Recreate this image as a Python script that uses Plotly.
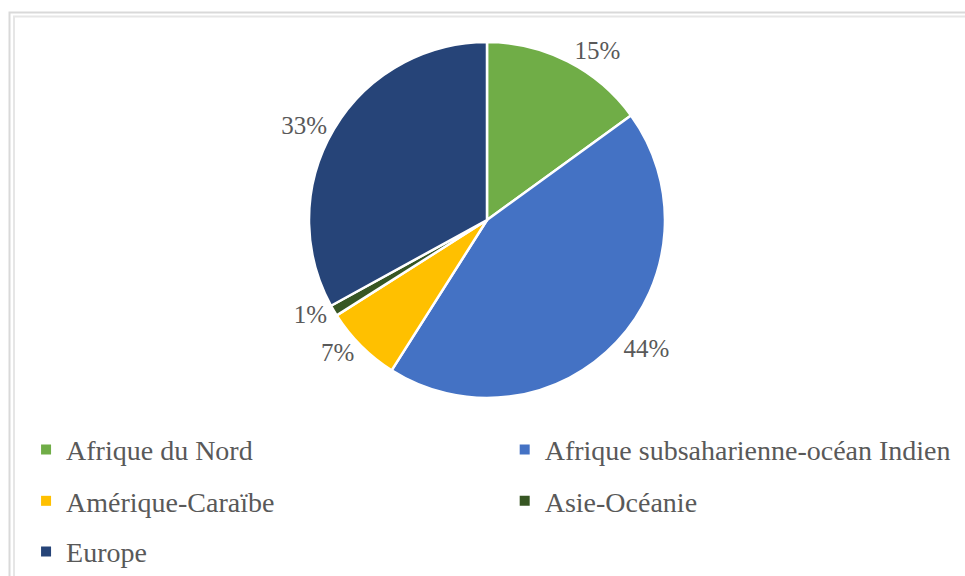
import plotly.graph_objects as go

regions = ["Afrique du Nord", "Afrique subsaharienne-océan Indien",
           "Amérique-Caraïbe", "Asie-Océanie", "Europe"]
shares = [15, 44, 7, 1, 33]
colors = ["#70AD47", "#4472C4", "#FFC000", "#375623", "#264478"]

FONT = "Liberation Serif"
TXT = "#595959"

fig = go.Figure()
fig.add_trace(go.Pie(
    labels=regions, values=shares, sort=False, direction="clockwise", rotation=0,
    marker=dict(colors=colors, line=dict(color="white", width=2.5)),
    textposition="outside", texttemplate="%{percent:.0%}",
    textfont=dict(family=FONT, size=25, color=TXT),
    domain=dict(x=[0.3202, 0.6891], y=[0.309, 0.927]),
    showlegend=False, hoverinfo="label+percent",
))

# legend entries, one small legend each so the row spacing matches
leg_pos = [(0.027, 0.219), (0.523, 0.219), (0.027, 0.130), (0.523, 0.130), (0.027, 0.042)]
legend_layout = {}
for i, (name, col) in enumerate(zip(regions, colors)):
    key = "legend" if i == 0 else f"legend{i+1}"
    fig.add_trace(go.Scatter(
        x=[None], y=[None], mode="markers", name=name,
        marker=dict(symbol="square", size=10, color=col),
        showlegend=True, legend=key, hoverinfo="skip",
    ))
    lx, ly = leg_pos[i]
    legend_layout[key] = dict(
        x=lx, y=ly, xanchor="left", yanchor="middle",
        font=dict(family=FONT, size=28, color=TXT),
        bgcolor="rgba(0,0,0,0)", borderwidth=0,
    )

fig.update_layout(
    width=965, height=576,
    margin=dict(l=0, r=0, t=0, b=0, autoexpand=False),
    paper_bgcolor="white", plot_bgcolor="white",
    xaxis=dict(visible=False), yaxis=dict(visible=False),
    font=dict(family=FONT, color=TXT),
    shapes=[
        dict(type="rect", xref="paper", yref="paper",
             x0=9.5/965, x1=1.05, y0=-0.05, y1=1-12.5/576,
             line=dict(color="#d9d9d9", width=2)),
        dict(type="rect", xref="paper", yref="paper",
             x0=14/965, x1=1.05, y0=-0.05, y1=1-16.5/576,
             line=dict(color="#e6e6e6", width=2)),
    ],
    **legend_layout,
)

fig.write_html("out.html", config={"displayModeBar": False},
               post_script="document.body.style.margin='0';document.body.style.overflow='hidden';")
